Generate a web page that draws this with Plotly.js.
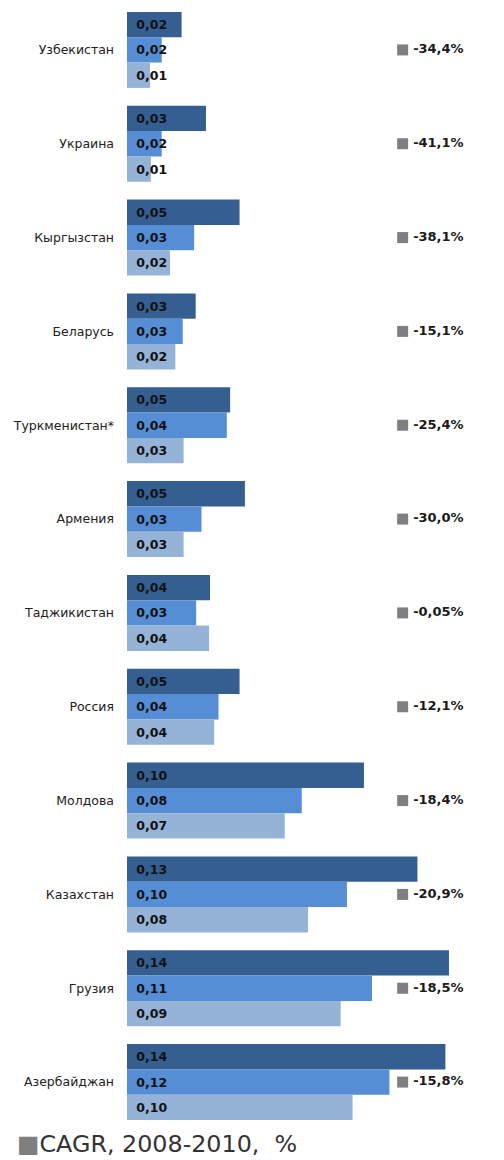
<!DOCTYPE html>
<html>
<head>
<meta charset="utf-8">
<script src="https://cdn.plot.ly/plotly-3.0.1.min.js"></script>
<style>html,body{margin:0;padding:0;background:#fff;}#chart{width:504px;height:1160px;}</style>
</head>
<body>
<div id="chart"></div>
<script>
// Countries (top to bottom)
var countries = ["Узбекистан","Украина","Кыргызстан","Беларусь","Туркменистан*","Армения","Таджикистан","Россия","Молдова","Казахстан","Грузия","Азербайджан"];
// Series values (bar lengths, estimated)
var series2008 = [0.0244,0.0353,0.0503,0.0307,0.0461,0.0527,0.0371,0.0503,0.1059,0.1298,0.1439,0.1423];
var series2009 = [0.0155,0.0155,0.0300,0.0249,0.0446,0.0333,0.0309,0.0409,0.0781,0.0983,0.1095,0.1173];
var series2010 = [0.0103,0.0107,0.0192,0.0216,0.0253,0.0253,0.0367,0.0390,0.0705,0.0809,0.0955,0.1008];
// Data labels as printed on the bars
var labels2008 = ["0,02","0,03","0,05","0,03","0,05","0,05","0,04","0,05","0,10","0,13","0,14","0,14"];
var labels2009 = ["0,02","0,02","0,03","0,03","0,04","0,03","0,03","0,04","0,08","0,10","0,11","0,12"];
var labels2010 = ["0,01","0,01","0,02","0,02","0,03","0,03","0,04","0,04","0,07","0,08","0,09","0,10"];
// CAGR 2008-2010, %
var cagrLabels = ["-34,4%","-41,1%","-38,1%","-15,1%","-25,4%","-30,0%","-0,05%","-12,1%","-18,4%","-20,9%","-18,5%","-15,8%"];
var cagrTitle = "CAGR, 2008-2010,\u00a0 %";

var colors = ["#365F91","#558ED5","#95B3D7"];
var barFont = {family:"DejaVu Sans", size:12.5, color:"#111111", weight:"bold"};

function barTrace(vals, labs, name, color){
  return {
    type:"bar", orientation:"h", name:name,
    x: vals, y: countries, text: labs,
    textposition:"inside", insidetextanchor:"start", textangle:0,
    constraintext:"none", texttemplate:"\u2002%{text}",
    insidetextfont: barFont, outsidetextfont: barFont,
    marker:{color:color, line:{width:0}},
    showlegend:false, hoverinfo:"skip", cliponaxis:false
  };
}

var traces = [
  barTrace(series2008, labels2008, "2008", colors[0]),
  barTrace(series2009, labels2009, "2009", colors[1]),
  barTrace(series2010, labels2010, "2010", colors[2]),
  {
    type:"scatter", mode:"markers+text", name:cagrTitle,
    x: countries.map(function(){return 0.77;}), y: countries,
    xaxis:"x2",
    text: cagrLabels, textposition:"middle right", texttemplate:"\u2009%{text}",
    textfont:{family:"DejaVu Sans", size:13, color:"#1a1a1a", weight:"bold"},
    marker:{symbol:"square", size:11, color:"#7F7F7F"},
    showlegend:false, hoverinfo:"skip", cliponaxis:false
  }
];

var layout = {
  width:504, height:1160,
  margin:{l:127, r:18.6, t:3, b:31, autoexpand:false},
  paper_bgcolor:"#ffffff", plot_bgcolor:"#ffffff",
  barmode:"group", bargap:0.19, bargroupgap:0,
  xaxis:{range:[0,0.16], visible:false, fixedrange:true},
  xaxis2:{range:[0,1], overlaying:"x", visible:false, fixedrange:true},
  yaxis:{type:"category", range:[countries.length-0.5, -0.5], showgrid:false, zeroline:false, showline:false,
         ticks:"", ticklabelstandoff:12, automargin:false,
         tickfont:{family:"DejaVu Sans", size:12.5, color:"#222222"}},
  annotations:[{
    xref:"paper", yref:"paper", x:-0.3116, y:-0.0135, xanchor:"left", yanchor:"middle",
    showarrow:false, align:"left",
    text:'<span style="color:#7F7F7F">\u25A0</span>' + cagrTitle,
    font:{family:"DejaVu Sans", size:23.8, color:"#333333"}
  }],
  showlegend:false
};

Plotly.newPlot("chart", traces, layout, {displayModeBar:false, staticPlot:true});
</script>
</body>
</html>
